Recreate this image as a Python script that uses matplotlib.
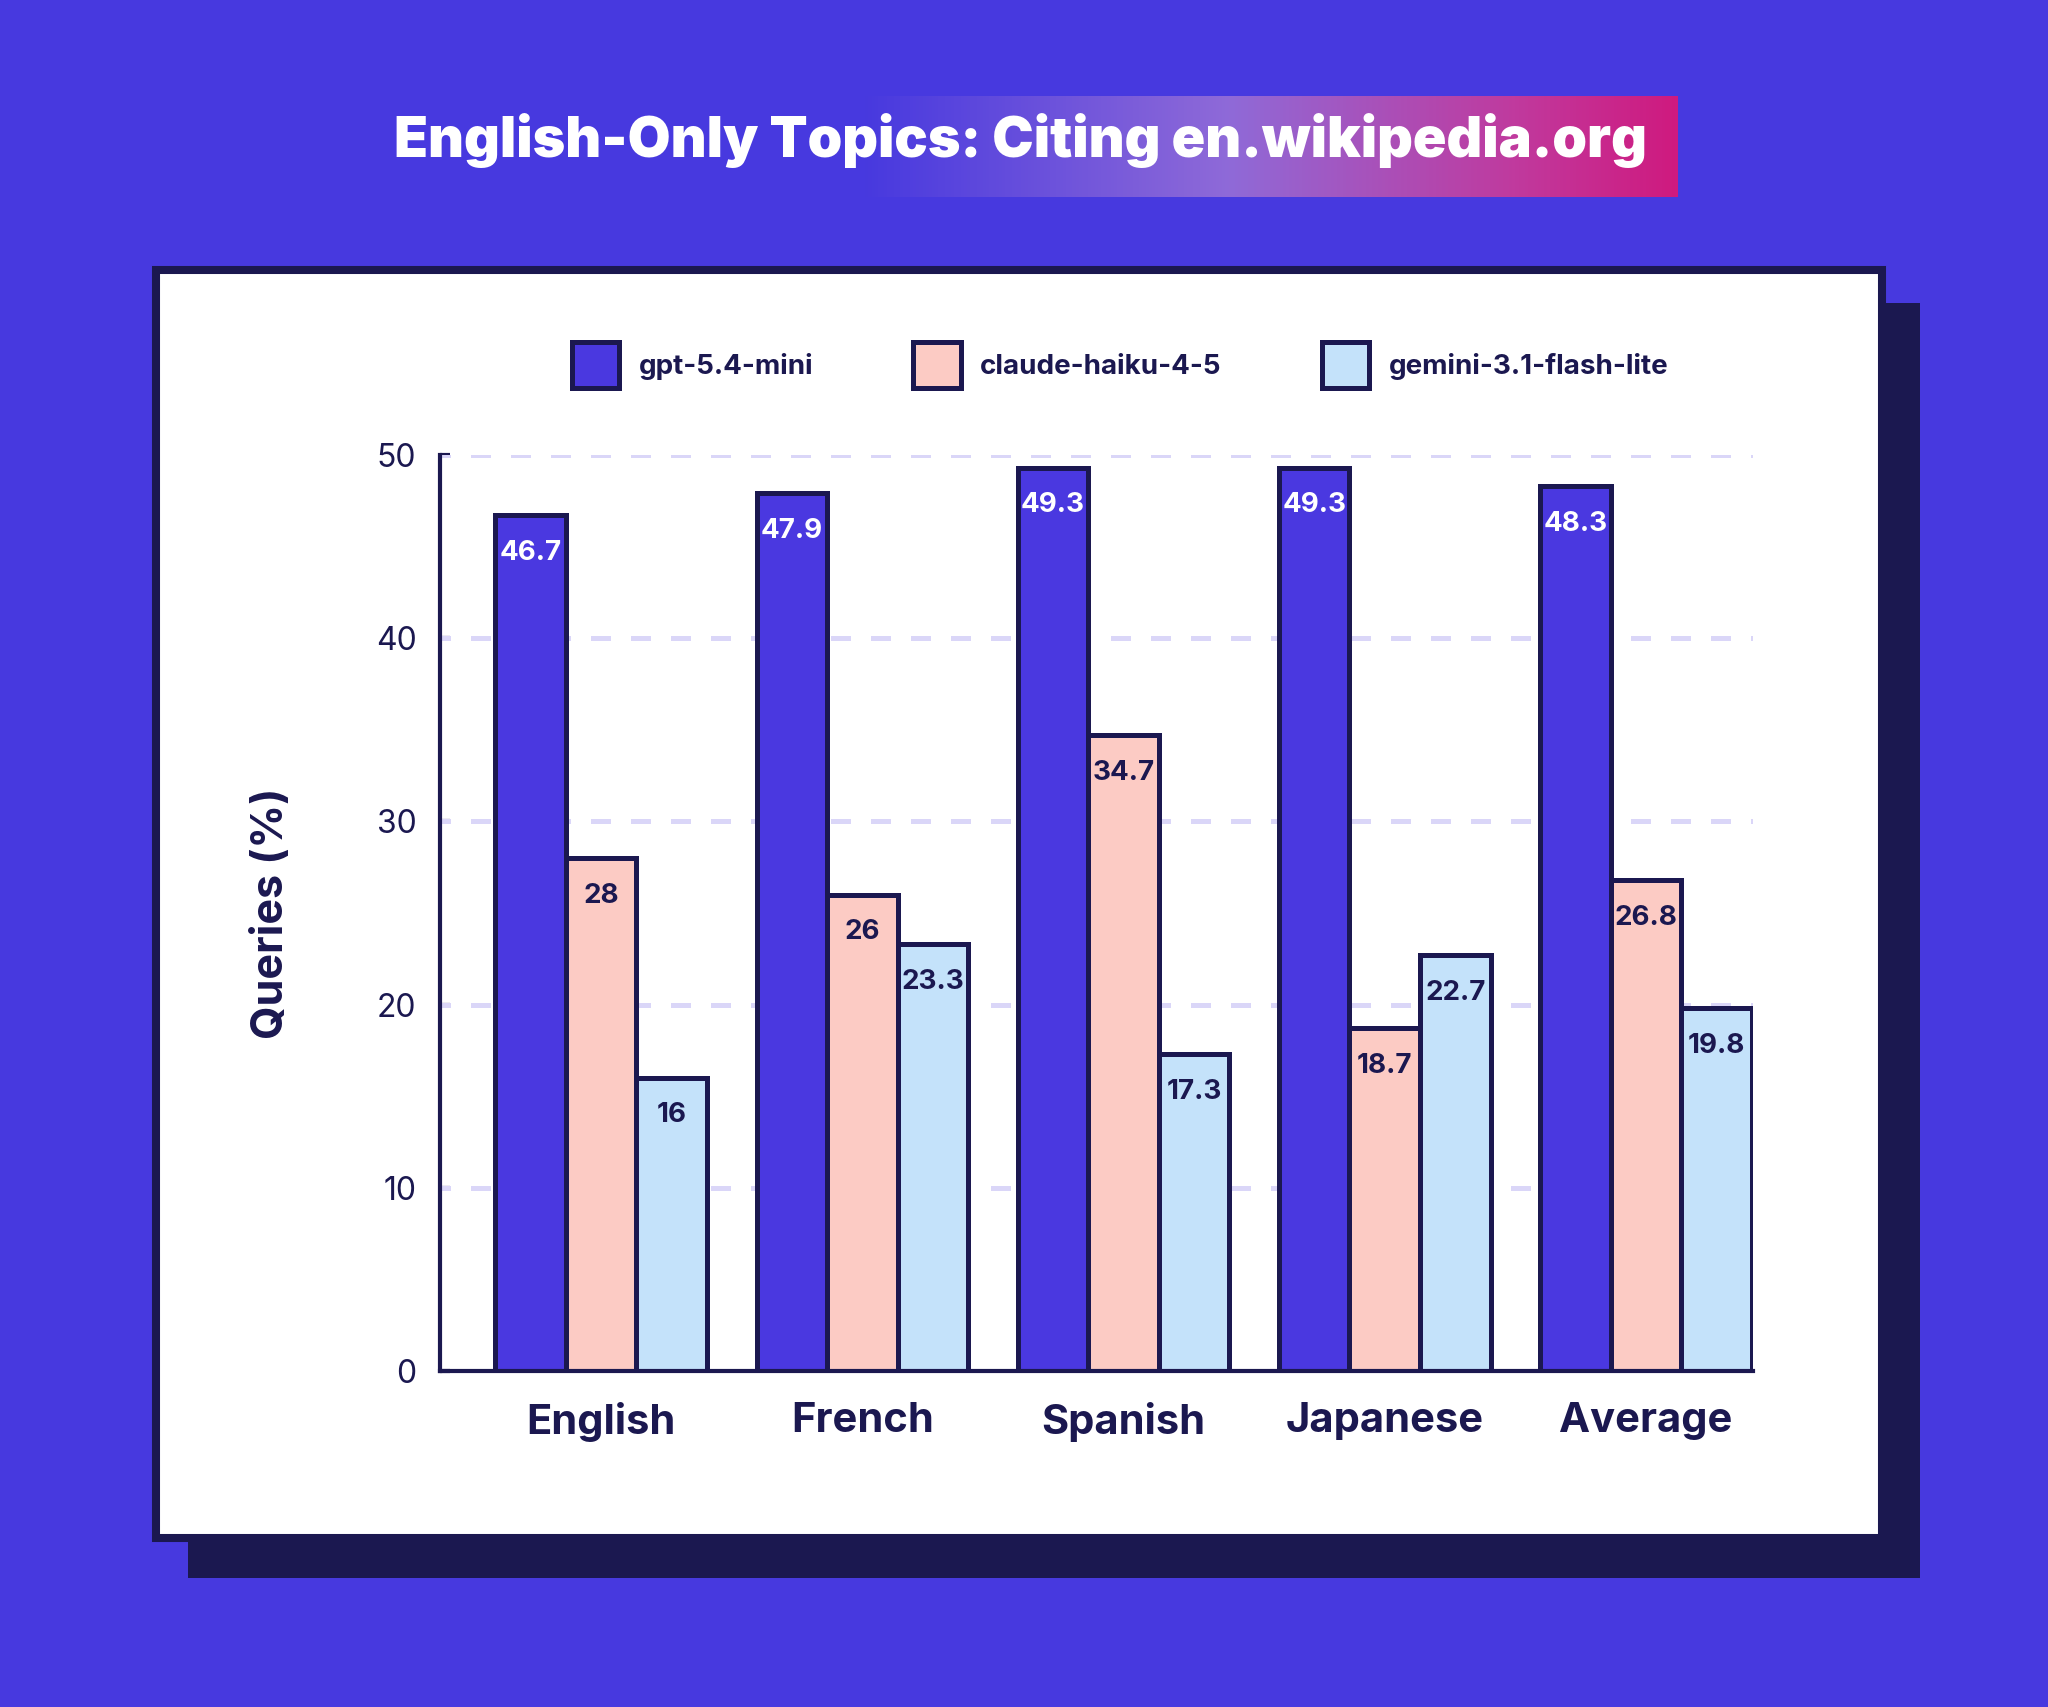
import numpy as np
import matplotlib
matplotlib.use("Agg")
import matplotlib.pyplot as plt
from matplotlib.patches import Rectangle, Patch
from matplotlib.colors import LinearSegmentedColormap

plt.rcParams['font.family'] = ['Inter', 'DejaVu Sans']

categories = ['English', 'French', 'Spanish', 'Japanese', 'Average']
models = ['gpt-5.4-mini', 'claude-haiku-4-5', 'gemini-3.1-flash-lite']
gpt = [46.7, 47.9, 49.3, 49.3, 48.3]
claude = [28, 26, 34.7, 18.7, 26.8]
gemini = [16, 23.3, 17.3, 22.7, 19.8]
yticks = [0, 10, 20, 30, 40, 50]

BG = '#4739DF'
NAVY = '#1B1850'
colors = ['#4A38E0', '#FCCBC4', '#C4E2FA']
label_colors = ['white', NAVY, NAVY]

W, H = 2048, 1707
fig = plt.figure(figsize=(W / 100, H / 100), dpi=100, facecolor=BG)


def fx(px):
    return px / W


def fy(py):
    return 1 - py / H


# shadow + white panel
fig.patches.append(Rectangle((fx(188), fy(1578)), fx(1920) - fx(188), fy(303) - fy(1578),
                             transform=fig.transFigure, facecolor=NAVY, edgecolor='none', zorder=-3))
fig.patches.append(Rectangle((fx(156), fy(1538)), fx(1882) - fx(156), fy(270) - fy(1538),
                             transform=fig.transFigure, facecolor='white', edgecolor=NAVY,
                             linewidth=5.8, zorder=-2))

# title gradient box
gax = fig.add_axes([fx(862), fy(197), fx(1678) - fx(862), fy(96) - fy(197)])
cmap = LinearSegmentedColormap.from_list('title', [(0, BG), (0.45, '#8F6AD8'),
                                                   (0.8, '#C03A9E'), (1, '#CF1A7F')])
gax.imshow(np.linspace(0, 1, 256)[None, :], aspect='auto', cmap=cmap, extent=[0, 1, 0, 1])
gax.axis('off')
fig.text(fx(1021), fy(141), 'English-Only Topics: Citing en.wikipedia.org', color='white',
         fontsize=40, fontweight='black', ha='center', va='center', zorder=5)

ax = fig.add_axes([fx(440), fy(1371), fx(1753) - fx(440), fy(455) - fy(1371)])
ax.set_zorder(2)
ax.patch.set_alpha(0)
x = np.arange(len(categories))
bw = 0.27
for i, (vals, c, lc) in enumerate(zip([gpt, claude, gemini], colors, label_colors)):
    pos = x + (i - 1) * bw
    bars = ax.bar(pos, vals, bw, color=c, edgecolor=NAVY, linewidth=3.6, zorder=3)
    for b, v in zip(bars, vals):
        ax.annotate(f'{v:g}', (b.get_x() + b.get_width() / 2, v), xytext=(0, -27),
                    textcoords='offset points', ha='center', va='center',
                    fontsize=20, fontweight='bold', color=lc, zorder=4)

ax.set_xlim(-0.617, 4.41)
ax.set_ylim(0, 50)
ax.set_yticks(yticks)
ax.set_xticks(x)
ax.set_xticklabels(categories, fontsize=30, fontweight='bold', color=NAVY)
ax.tick_params(axis='x', length=0, pad=22)
ax.tick_params(axis='y', direction='in', length=7, width=3, color=NAVY, labelsize=23,
               labelcolor=NAVY, pad=17)
for s in ['top', 'right']:
    ax.spines[s].set_visible(False)
for s in ['left', 'bottom']:
    ax.spines[s].set_color(NAVY)
    ax.spines[s].set_linewidth(3)
    ax.spines[s].set_zorder(5)
ax.set_axisbelow(True)
for yv in yticks[1:]:
    ax.axhline(yv, color='#DAD6F8', linewidth=3.6, linestyle=(1.9, (4, 4)), zorder=1)
ax.set_ylabel('Queries (%)', fontsize=31, fontweight='bold', color=NAVY)
ax.yaxis.set_label_coords(-(440 - 292) / (1753 - 440), 0.5)

handles = [Patch(facecolor=c, edgecolor=NAVY, linewidth=3.6) for c in colors]
leg = fig.legend(handles, models, loc='center', bbox_to_anchor=(fx(1120), fy(365)), ncol=3,
                 frameon=False, handlelength=1.71, handleheight=2.18,
                 handletextpad=0.7, columnspacing=3.6, prop={'weight': 'bold', 'size': 20})
for t in leg.get_texts():
    t.set_color(NAVY)

fig.savefig('out.png', dpi=100, facecolor=BG)
